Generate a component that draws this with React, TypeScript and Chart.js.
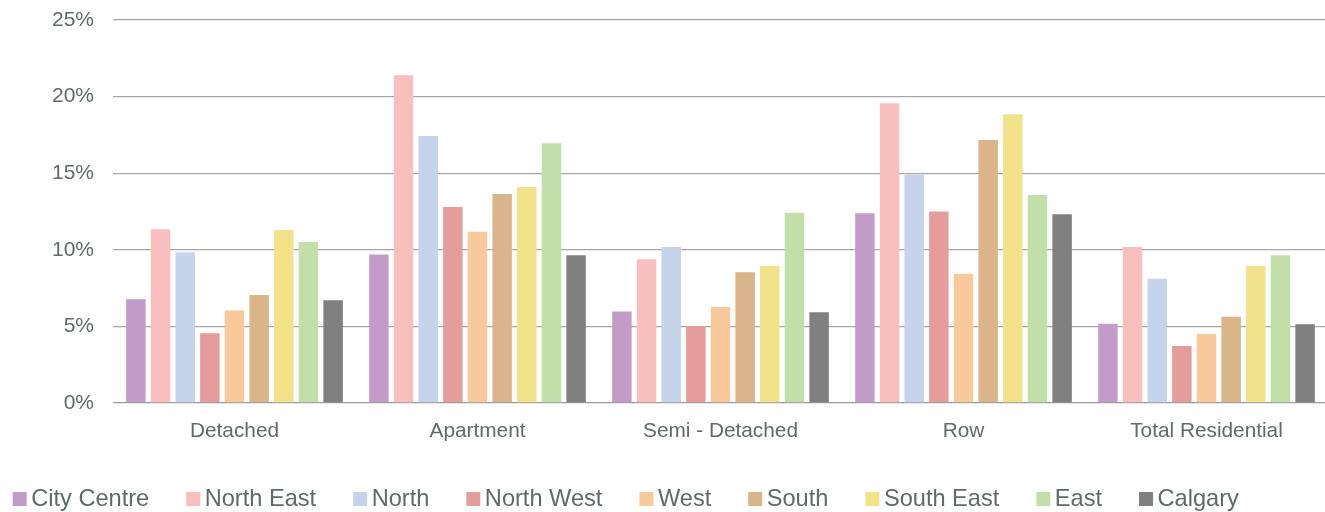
import React, { useEffect, useRef } from "react";
import { Chart, registerables } from "chart.js";

Chart.register(...registerables);

const categories = ["Detached", "Apartment", "Semi - Detached", "Row", "Total Residential"];
const seriesNames = ["City Centre", "North East", "North", "North West", "West", "South", "South East", "East", "Calgary"];
const seriesColors = ["#C39BC8", "#F9BFBF", "#C5D4EB", "#E59D9B", "#F8CA9B", "#D9B589", "#F2E38A", "#C2DFA9", "#808080"];

const cityCentre = [6.77, 9.7, 5.98, 12.38, 5.18];
const northEast = [11.34, 21.39, 9.38, 19.56, 10.18];
const north = [9.84, 17.43, 10.18, 14.9, 8.11];
const northWest = [4.55, 12.79, 5.03, 12.5, 3.72];
const west = [6.03, 11.18, 6.27, 8.44, 4.5];
const south = [7.05, 13.64, 8.53, 17.17, 5.63];
const southEast = [11.29, 14.1, 8.94, 18.84, 8.94];
const east = [10.51, 16.95, 12.42, 13.58, 9.64];
const calgary = [6.7, 9.64, 5.92, 12.32, 5.14];

const seriesValues = [cityCentre, northEast, north, northWest, west, south, southEast, east, calgary];
const yTicks = [0, 5, 10, 15, 20, 25];

const TEXT = "#5f6b66";
const FONT = "'Liberation Sans', Arial, sans-serif";

const legendPlugin = {
  id: "customLegend",
  afterDraw(chart: any) {
    const ctx = chart.ctx;
    ctx.save();
    ctx.font = `23.6px ${FONT}`;
    ctx.textBaseline = "alphabetic";
    ctx.textAlign = "left";
    let x = 12.7;
    const boxY = 492;
    const box = 14;
    chart.data.datasets.forEach((ds: any) => {
      ctx.fillStyle = ds.backgroundColor;
      ctx.fillRect(x, boxY, box, box);
      const tx = x + box + 4.5;
      ctx.fillStyle = TEXT;
      ctx.fillText(ds.label, tx, 505.5);
      const w = ctx.measureText(ds.label).width;
      x = tx + w + 37;
    });
    ctx.restore();
  },
};

export default function App() {
  const ref = useRef<HTMLCanvasElement | null>(null);
  useEffect(() => {
    document.body.style.margin = "0";
    document.body.style.overflow = "hidden";
    if (!ref.current) return;
    const chart = new Chart(ref.current, {
      type: "bar",
      data: {
        labels: categories,
        datasets: seriesNames.map((name, i) => ({
          label: name,
          data: seriesValues[i],
          backgroundColor: seriesColors[i],
          borderWidth: 0,
          categoryPercentage: 0.913,
          barPercentage: 0.79,
        })),
      },
      options: {
        animation: false,
        responsive: true,
        maintainAspectRatio: false,
        layout: { padding: { top: 20, left: 0, right: 0, bottom: 0 } },
        plugins: {
          legend: { display: false },
          tooltip: { enabled: false },
        },
        scales: {
          x: {
            grid: { display: false, drawTicks: false },
            border: { display: false },
            ticks: {
              color: TEXT,
              font: { family: FONT, size: 20.8 },
              padding: 16,
              maxRotation: 0,
              autoSkip: false,
            },
            afterFit: (s: any) => {
              s.height = 109;
              s.paddingLeft = 0;
              s.paddingRight = 0;
            },
          },
          y: {
            min: 0,
            max: 25,
            afterBuildTicks: (s: any) => {
              s.ticks = yTicks.map((v) => ({ value: v }));
            },
            grid: {
              color: (c: any) => (c.tick && c.tick.value === 0 ? "#9a9a9a" : "#a6a6a6"),
              lineWidth: 1.3,
              drawTicks: false,
            },
            border: { display: false },
            ticks: {
              color: TEXT,
              font: { family: FONT, size: 21 },
              padding: 19,
              callback: (v: any) => `${v}%`,
            },
            afterFit: (s: any) => {
              s.width = 113;
              s.paddingTop = 0;
              s.paddingBottom = 0;
            },
          },
        },
      },
      plugins: [legendPlugin],
    });
    return () => chart.destroy();
  }, []);
  return (
    <div style={{ width: 1325, height: 512, overflow: "hidden", position: "relative" }}>
      <div style={{ width: 1328, height: 512, position: "absolute", left: 0, top: 0 }}>
        <canvas ref={ref} />
      </div>
    </div>
  );
}
